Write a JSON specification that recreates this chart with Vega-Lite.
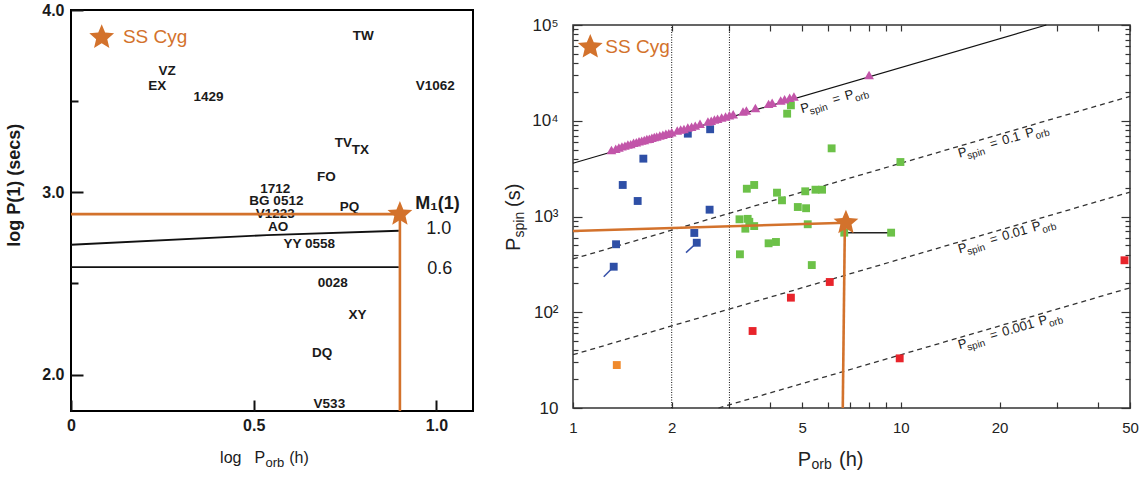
{
  "$schema": "https://vega.github.io/schema/vega-lite/v6.json",
  "padding": {"left": 5, "top": 1, "right": 5, "bottom": 0},
  "spacing": 29,
  "config": {"font": "Liberation Sans", "view": {"stroke": null}, "axis": {"grid": false}},
  "datasets": {
    "lp_lines": [
      {"id": "a", "x": 0, "y": 2.712}, {"id": "a", "x": 0.536, "y": 2.765}, {"id": "a", "x": 0.897, "y": 2.789},
      {"id": "b", "x": 0, "y": 2.589}, {"id": "b", "x": 0.897, "y": 2.589}
    ],
    "lp_orange": [
      {"id": "h", "x": 0, "y": 2.88}, {"id": "h", "x": 0.9, "y": 2.88},
      {"id": "v", "x": 0.9, "y": 2.88}, {"id": "v", "x": 0.9, "y": 1.8}
    ],
    "lp_stars": [{"x": 0.9, "y": 2.88}, {"x": 0.084, "y": 3.85}],
    "lp_text": [
      {"t": "TW", "x": 0.80, "y": 3.856, "kind": "n"},
      {"t": "VZ", "x": 0.263, "y": 3.664, "kind": "n"},
      {"t": "EX", "x": 0.236, "y": 3.582, "kind": "n"},
      {"t": "1429", "x": 0.376, "y": 3.52, "kind": "n"},
      {"t": "V1062", "x": 0.997, "y": 3.582, "kind": "n"},
      {"t": "TV", "x": 0.745, "y": 3.27, "kind": "n"},
      {"t": "TX", "x": 0.792, "y": 3.23, "kind": "n"},
      {"t": "FO", "x": 0.699, "y": 3.083, "kind": "n"},
      {"t": "1712", "x": 0.559, "y": 3.017, "kind": "n"},
      {"t": "BG 0512", "x": 0.562, "y": 2.95, "kind": "n"},
      {"t": "V1223", "x": 0.559, "y": 2.88, "kind": "n"},
      {"t": "PQ", "x": 0.762, "y": 2.918, "kind": "n"},
      {"t": "AO", "x": 0.567, "y": 2.81, "kind": "n"},
      {"t": "YY 0558", "x": 0.652, "y": 2.716, "kind": "n"},
      {"t": "0028", "x": 0.716, "y": 2.50, "kind": "n"},
      {"t": "XY", "x": 0.784, "y": 2.327, "kind": "n"},
      {"t": "DQ", "x": 0.687, "y": 2.12, "kind": "n"},
      {"t": "V533", "x": 0.707, "y": 1.84, "kind": "n"},
      {"t": "1.0", "x": 1.006, "y": 2.798, "kind": "lv"},
      {"t": "0.6", "x": 1.009, "y": 2.58, "kind": "lv"},
      {"t": "M₁(1)", "x": 0.942, "y": 2.935, "kind": "m"},
      {"t": "SS Cyg", "x": 0.142, "y": 3.85, "kind": "lg"},
      {"t": "log P(1) (secs)", "x": -0.153, "y": 3.039, "kind": "yt"},
      {"t": "log", "x": 0.408, "y": 1.516, "kind": "xt"},
      {"t": "P", "x": 0.502, "y": 1.516, "kind": "xt"},
      {"t": "(h)", "x": 0.597, "y": 1.516, "kind": "xt"},
      {"t": "orb", "x": 0.532, "y": 1.516, "kind": "xs"}
    ],
    "rp_lines": [
      {"id": "v2", "porb": 2, "pspin": 10}, {"id": "v2", "porb": 2, "pspin": 100000},
      {"id": "v3", "porb": 3, "pspin": 10}, {"id": "v3", "porb": 3, "pspin": 100000},
      {"id": "eq", "porb": 1, "pspin": 3600}, {"id": "eq", "porb": 27.78, "pspin": 100000},
      {"id": "d1", "porb": 1, "pspin": 360}, {"id": "d1", "porb": 50, "pspin": 18000},
      {"id": "d2", "porb": 1, "pspin": 36}, {"id": "d2", "porb": 50, "pspin": 1800},
      {"id": "d3", "porb": 2.778, "pspin": 10}, {"id": "d3", "porb": 50, "pspin": 180},
      {"id": "t1", "porb": 1.331, "pspin": 299}, {"id": "t1", "porb": 1.241, "pspin": 235},
      {"id": "t2", "porb": 2.385, "pspin": 532}, {"id": "t2", "porb": 2.212, "pspin": 419},
      {"id": "conn", "porb": 6.72, "pspin": 678}, {"id": "conn", "porb": 9.34, "pspin": 678},
      {"id": "o1", "porb": 1, "pspin": 706}, {"id": "o1", "porb": 6.8, "pspin": 861},
      {"id": "o2", "porb": 6.75, "pspin": 861}, {"id": "o2", "porb": 6.65, "pspin": 10}
    ],
    "rp_pts": [
      {"grp": "blue", "porb": 2.24, "pspin": 7330}, {"grp": "blue", "porb": 2.62, "pspin": 8150},
      {"grp": "blue", "porb": 1.639, "pspin": 4020}, {"grp": "blue", "porb": 1.418, "pspin": 2134},
      {"grp": "blue", "porb": 1.575, "pspin": 1452}, {"grp": "blue", "porb": 2.61, "pspin": 1178},
      {"grp": "blue", "porb": 2.344, "pspin": 673}, {"grp": "blue", "porb": 2.385, "pspin": 532},
      {"grp": "blue", "porb": 1.353, "pspin": 513}, {"grp": "blue", "porb": 1.331, "pspin": 299},
      {"grp": "green", "porb": 4.62, "pspin": 14490}, {"grp": "green", "porb": 4.5, "pspin": 11860},
      {"grp": "green", "porb": 6.15, "pspin": 5150}, {"grp": "green", "porb": 9.97, "pspin": 3707},
      {"grp": "green", "porb": 3.39, "pspin": 1950}, {"grp": "green", "porb": 3.57, "pspin": 2134},
      {"grp": "green", "porb": 4.19, "pspin": 1774}, {"grp": "green", "porb": 4.34, "pspin": 1476},
      {"grp": "green", "porb": 5.11, "pspin": 1833}, {"grp": "green", "porb": 5.49, "pspin": 1905},
      {"grp": "green", "porb": 5.75, "pspin": 1905}, {"grp": "green", "porb": 4.85, "pspin": 1256},
      {"grp": "green", "porb": 5.14, "pspin": 1220}, {"grp": "green", "porb": 3.22, "pspin": 935},
      {"grp": "green", "porb": 3.41, "pspin": 945}, {"grp": "green", "porb": 3.355, "pspin": 746},
      {"grp": "green", "porb": 3.57, "pspin": 794}, {"grp": "green", "porb": 5.2, "pspin": 830},
      {"grp": "green", "porb": 3.95, "pspin": 525}, {"grp": "green", "porb": 4.16, "pspin": 542},
      {"grp": "green", "porb": 3.23, "pspin": 403}, {"grp": "green", "porb": 5.35, "pspin": 311},
      {"grp": "green", "porb": 6.72, "pspin": 678}, {"grp": "green", "porb": 9.34, "pspin": 678},
      {"grp": "green", "porb": 3.45, "pspin": 880},
      {"grp": "red", "porb": 3.53, "pspin": 63.7}, {"grp": "red", "porb": 4.62, "pspin": 142},
      {"grp": "red", "porb": 6.07, "pspin": 207}, {"grp": "red", "porb": 9.92, "pspin": 33},
      {"grp": "red", "porb": 48.1, "pspin": 349},
      {"grp": "orange", "porb": 1.36, "pspin": 28.1},
      {"grp": "tri", "porb": 1.31, "pspin": 4950}, {"grp": "tri", "porb": 1.35, "pspin": 5100},
      {"grp": "tri", "porb": 1.38, "pspin": 5250}, {"grp": "tri", "porb": 1.41, "pspin": 5400},
      {"grp": "tri", "porb": 1.44, "pspin": 5500}, {"grp": "tri", "porb": 1.47, "pspin": 5650},
      {"grp": "tri", "porb": 1.50, "pspin": 5700}, {"grp": "tri", "porb": 1.53, "pspin": 5900},
      {"grp": "tri", "porb": 1.56, "pspin": 5950}, {"grp": "tri", "porb": 1.59, "pspin": 6100},
      {"grp": "tri", "porb": 1.62, "pspin": 6200}, {"grp": "tri", "porb": 1.65, "pspin": 6300},
      {"grp": "tri", "porb": 1.68, "pspin": 6450}, {"grp": "tri", "porb": 1.71, "pspin": 6500},
      {"grp": "tri", "porb": 1.74, "pspin": 6650}, {"grp": "tri", "porb": 1.77, "pspin": 6750},
      {"grp": "tri", "porb": 1.80, "pspin": 6850}, {"grp": "tri", "porb": 1.84, "pspin": 7000},
      {"grp": "tri", "porb": 1.88, "pspin": 7150}, {"grp": "tri", "porb": 1.92, "pspin": 7300},
      {"grp": "tri", "porb": 1.96, "pspin": 7400}, {"grp": "tri", "porb": 2.00, "pspin": 7600},
      {"grp": "tri", "porb": 2.08, "pspin": 7900}, {"grp": "tri", "porb": 2.13, "pspin": 8100},
      {"grp": "tri", "porb": 2.18, "pspin": 8200}, {"grp": "tri", "porb": 2.24, "pspin": 8500},
      {"grp": "tri", "porb": 2.30, "pspin": 8650}, {"grp": "tri", "porb": 2.36, "pspin": 8900},
      {"grp": "tri", "porb": 2.44, "pspin": 9300}, {"grp": "tri", "porb": 2.58, "pspin": 9800},
      {"grp": "tri", "porb": 2.64, "pspin": 10000}, {"grp": "tri", "porb": 2.70, "pspin": 10300},
      {"grp": "tri", "porb": 2.76, "pspin": 10500}, {"grp": "tri", "porb": 2.84, "pspin": 10800},
      {"grp": "tri", "porb": 2.92, "pspin": 11100}, {"grp": "tri", "porb": 3.00, "pspin": 11400},
      {"grp": "tri", "porb": 3.08, "pspin": 11700}, {"grp": "tri", "porb": 3.30, "pspin": 12500},
      {"grp": "tri", "porb": 3.38, "pspin": 12800}, {"grp": "tri", "porb": 3.60, "pspin": 13600},
      {"grp": "tri", "porb": 3.95, "pspin": 15000}, {"grp": "tri", "porb": 4.05, "pspin": 15400},
      {"grp": "tri", "porb": 4.30, "pspin": 16300}, {"grp": "tri", "porb": 4.42, "pspin": 16800},
      {"grp": "tri", "porb": 4.58, "pspin": 17400}, {"grp": "tri", "porb": 4.72, "pspin": 17900},
      {"grp": "tri", "porb": 8.0, "pspin": 30000}
    ],
    "rp_stars": [{"porb": 6.8, "pspin": 861}, {"porb": 1.129, "pspin": 58900}],
    "rp_text": [
      {"t": "P", "porb": 4.996, "pspin": 11970, "kind": "lm"},
      {"t": "spin", "porb": 5.273, "pspin": 12634, "kind": "ls"},
      {"t": "=", "porb": 6.243, "pspin": 14958, "kind": "lm"},
      {"t": "P", "porb": 6.815, "pspin": 16328, "kind": "lm"},
      {"t": "orb", "porb": 7.242, "pspin": 17350, "kind": "ls"},
      {"t": "P", "porb": 15.09, "pspin": 4113, "kind": "lm"},
      {"t": "spin", "porb": 15.93, "pspin": 4341, "kind": "ls"},
      {"t": "=", "porb": 18.86, "pspin": 5140, "kind": "lm"},
      {"t": "0.1", "porb": 20.58, "pspin": 5611, "kind": "lm"},
      {"t": "P", "porb": 24.20, "pspin": 6596, "kind": "lm"},
      {"t": "orb", "porb": 25.72, "pspin": 7010, "kind": "ls"},
      {"t": "P", "porb": 15.09, "pspin": 411.3, "kind": "lm"},
      {"t": "spin", "porb": 15.93, "pspin": 434.1, "kind": "ls"},
      {"t": "=", "porb": 18.86, "pspin": 514.0, "kind": "lm"},
      {"t": "0.01", "porb": 20.58, "pspin": 561.1, "kind": "lm"},
      {"t": "P", "porb": 25.37, "pspin": 691.6, "kind": "lm"},
      {"t": "orb", "porb": 26.96, "pspin": 734.8, "kind": "ls"},
      {"t": "P", "porb": 15.09, "pspin": 41.13, "kind": "lm"},
      {"t": "spin", "porb": 15.93, "pspin": 43.41, "kind": "ls"},
      {"t": "=", "porb": 18.86, "pspin": 51.40, "kind": "lm"},
      {"t": "0.001", "porb": 20.58, "pspin": 56.11, "kind": "lm"},
      {"t": "P", "porb": 26.59, "pspin": 72.49, "kind": "lm"},
      {"t": "orb", "porb": 28.26, "pspin": 77.03, "kind": "ls"},
      {"t": "P", "porb": 4.85, "pspin": 2.48, "kind": "xm"},
      {"t": "(h)", "porb": 6.48, "pspin": 2.48, "kind": "xm"},
      {"t": "orb", "porb": 5.34, "pspin": 2.48, "kind": "xs"},
      {"t": "P", "porb": 0.689, "pspin": 436.5, "kind": "ym"},
      {"t": "(s)", "porb": 0.689, "pspin": 1256, "kind": "ym"},
      {"t": "spin", "porb": 0.689, "pspin": 604, "kind": "ys"},
      {"t": "SS Cyg", "porb": 1.255, "pspin": 58900, "kind": "lg"}
    ]
  },
  "hconcat": [
    {
      "width": 402,
      "height": 401,
      "view": {"stroke": "black", "strokeWidth": 2},
      "resolve": {"axis": {"x": "independent", "y": "independent"}},
      "encoding": {
        "x": {"field": "x", "type": "quantitative", "scale": {"domain": [0, 1.1], "nice": false, "zero": false}, "axis": null},
        "y": {"field": "y", "type": "quantitative", "scale": {"domain": [1.8, 4.0], "nice": false, "zero": false}, "axis": null}
      },
      "layer": [
        {
          "data": {"name": "lp_lines"},
          "mark": {"type": "line", "color": "#111", "strokeWidth": 1.8},
          "encoding": {
            "x": {"field": "x", "type": "quantitative", "scale": {"domain": [0, 1.1], "nice": false, "zero": false},
              "axis": {"values": [0, 0.5, 1], "labelExpr": "datum.value == 0 ? '0' : format(datum.value, '.1f')", "tickSize": -11, "tickWidth": 2, "tickColor": "#111", "domain": false, "labelPadding": 17, "labelFontSize": 16, "labelFontWeight": "bold", "labelColor": "#1a1a1a", "labelFlush": false, "labelOverlap": false, "title": null}},
            "y": {"field": "y", "type": "quantitative", "scale": {"domain": [1.8, 4.0], "nice": false, "zero": false},
              "axis": {"values": [2, 2.5, 3, 3.5, 4], "labelExpr": "datum.value % 1 == 0 ? format(datum.value, '.1f') : ''", "tickSize": {"condition": {"test": "datum.value % 1 == 0", "value": -12}, "value": -7}, "tickWidth": 2, "tickColor": "#111", "domain": false, "labelPadding": 19, "labelFontSize": 16, "labelFontWeight": "bold", "labelColor": "#1a1a1a", "labelFlush": false, "labelOverlap": false, "title": null}},
            "detail": {"field": "id"}
          }
        },
        {
          "data": {"name": "lp_text"},
          "transform": [{"filter": "datum.kind == 'n'"}],
          "mark": {"type": "text", "fontSize": 13.5, "fontWeight": "bold", "color": "#1a1a1a", "align": "center", "baseline": "middle"},
          "encoding": {"text": {"field": "t"}}
        },
        {
          "data": {"name": "lp_text"},
          "transform": [{"filter": "datum.kind == 'lv'"}],
          "mark": {"type": "text", "fontSize": 18, "color": "#1a1a1a", "align": "center", "baseline": "middle"},
          "encoding": {"text": {"field": "t"}}
        },
        {
          "data": {"name": "lp_text"},
          "transform": [{"filter": "datum.kind == 'm'"}],
          "mark": {"type": "text", "fontSize": 18, "fontWeight": "bold", "color": "#1a1a1a", "align": "left", "baseline": "middle"},
          "encoding": {"text": {"field": "t"}}
        },
        {
          "data": {"name": "lp_orange"},
          "mark": {"type": "line", "color": "#D3722C", "strokeWidth": 2.6},
          "encoding": {"detail": {"field": "id"}}
        },
        {
          "data": {"name": "lp_stars"},
          "mark": {"type": "point", "shape": "M0,-1L0.265,-0.364L0.951,-0.309L0.428,0.139L0.588,0.809L0,0.45L-0.588,0.809L-0.428,0.139L-0.951,-0.309L-0.265,-0.364Z", "size": 680, "filled": true, "color": "#D3722C", "opacity": 1}
        },
        {
          "data": {"name": "lp_text"},
          "transform": [{"filter": "datum.kind == 'lg'"}],
          "mark": {"type": "text", "fontSize": 19, "color": "#D3722C", "align": "left", "baseline": "middle"},
          "encoding": {"text": {"field": "t"}}
        },
        {
          "data": {"name": "lp_text"},
          "transform": [{"filter": "datum.kind == 'yt'"}],
          "mark": {"type": "text", "fontSize": 18, "fontWeight": "bold", "color": "#1a1a1a", "align": "center", "baseline": "middle", "angle": 270},
          "encoding": {"text": {"field": "t"}}
        },
        {
          "data": {"name": "lp_text"},
          "transform": [{"filter": "datum.kind == 'xt'"}],
          "mark": {"type": "text", "fontSize": 16, "color": "#1a1a1a", "align": "left", "baseline": "alphabetic"},
          "encoding": {"text": {"field": "t"}}
        },
        {
          "data": {"name": "lp_text"},
          "transform": [{"filter": "datum.kind == 'xs'"}],
          "mark": {"type": "text", "fontSize": 13, "color": "#1a1a1a", "align": "left", "baseline": "alphabetic", "dy": 4},
          "encoding": {"text": {"field": "t"}}
        }
      ]
    },
    {
      "spacing": -1,
      "vconcat": [
        {
          "width": 557,
          "height": 1,
          "data": {"values": [{"a": 1}]},
          "mark": {"type": "text", "text": ""}
        },
        {
          "width": 557,
          "height": 383,
          "view": {"stroke": "#333", "strokeWidth": 1.5},
          "resolve": {"axis": {"x": "independent", "y": "independent"}},
          "encoding": {
            "x": {"field": "porb", "type": "quantitative", "scale": {"type": "log", "domain": [1, 50], "nice": false}, "axis": null},
            "y": {"field": "pspin", "type": "quantitative", "scale": {"type": "log", "domain": [10, 100000], "nice": false}, "axis": null}
          },
          "layer": [
            {
              "data": {"name": "rp_lines"},
              "transform": [{"filter": "datum.id == 'v2' || datum.id == 'v3'"}],
              "mark": {"type": "line", "color": "#111", "strokeWidth": 1, "strokeDash": [1, 1.5]},
              "encoding": {
                "x": {"field": "porb", "type": "quantitative", "scale": {"type": "log", "domain": [1, 50], "nice": false},
                  "axis": {"orient": "bottom", "values": [1, 2, 3, 4, 5, 6, 7, 8, 9, 10, 20, 30, 40, 50], "labelExpr": "indexof([1, 2, 5, 10, 20, 50], datum.value) >= 0 ? '' + datum.value : ''", "tickSize": -6, "tickColor": "#333", "tickWidth": 1.2, "domain": false, "labelPadding": 18, "labelFontSize": 15, "labelColor": "#222", "labelFlush": false, "labelOverlap": false, "title": null}},
                "y": {"field": "pspin", "type": "quantitative", "scale": {"type": "log", "domain": [10, 100000], "nice": false},
                  "axis": {"orient": "left", "values": [10, 20, 30, 40, 50, 60, 70, 80, 90, 100, 200, 300, 400, 500, 600, 700, 800, 900, 1000, 2000, 3000, 4000, 5000, 6000, 7000, 8000, 9000, 10000, 20000, 30000, 40000, 50000, 60000, 70000, 80000, 90000, 100000], "labelExpr": "datum.value == 10 ? '10' : datum.value == 100 ? '10²' : datum.value == 1000 ? '10³' : datum.value == 10000 ? '10⁴' : datum.value == 100000 ? '10⁵' : ''", "tickSize": {"condition": {"test": "indexof([10, 100, 1000, 10000, 100000], datum.value) >= 0", "value": -9}, "value": -5}, "tickColor": "#333", "tickWidth": 1.2, "domain": false, "labelPadding": 24, "labelFontSize": 17, "labelColor": "#222", "labelFlush": false, "labelOverlap": false, "title": null}},
                "detail": {"field": "id"}
              }
            },
            {
              "data": {"name": "rp_lines"},
              "transform": [{"filter": "datum.id == 'eq'"}],
              "mark": {"type": "line", "color": "#111", "strokeWidth": 1.2},
              "encoding": {
                "x": {"field": "porb", "type": "quantitative", "scale": {"type": "log", "domain": [1, 50], "nice": false},
                  "axis": {"orient": "top", "values": [1, 2, 3, 4, 5, 6, 7, 8, 9, 10, 20, 30, 40, 50], "labels": false, "tickSize": -6, "tickColor": "#333", "tickWidth": 1.2, "domain": false, "title": null}},
                "y": {"field": "pspin", "type": "quantitative", "scale": {"type": "log", "domain": [10, 100000], "nice": false},
                  "axis": {"orient": "right", "values": [10, 20, 30, 40, 50, 60, 70, 80, 90, 100, 200, 300, 400, 500, 600, 700, 800, 900, 1000, 2000, 3000, 4000, 5000, 6000, 7000, 8000, 9000, 10000, 20000, 30000, 40000, 50000, 60000, 70000, 80000, 90000, 100000], "labels": false, "tickSize": {"condition": {"test": "indexof([10, 100, 1000, 10000, 100000], datum.value) >= 0", "value": -9}, "value": -5}, "tickColor": "#333", "tickWidth": 1.2, "domain": false, "title": null}},
                "detail": {"field": "id"}
              }
            },
            {
              "data": {"name": "rp_lines"},
              "transform": [{"filter": "datum.id == 'd1' || datum.id == 'd2' || datum.id == 'd3'"}],
              "mark": {"type": "line", "color": "#333", "strokeWidth": 1.3, "strokeDash": [5, 4]},
              "encoding": {"detail": {"field": "id"}}
            },
            {
              "data": {"name": "rp_lines"},
              "transform": [{"filter": "datum.id == 't1' || datum.id == 't2'"}],
              "mark": {"type": "line", "color": "#3550A8", "strokeWidth": 1.5},
              "encoding": {"detail": {"field": "id"}}
            },
            {
              "data": {"name": "rp_lines"},
              "transform": [{"filter": "datum.id == 'conn'"}],
              "mark": {"type": "line", "color": "#222", "strokeWidth": 1.5},
              "encoding": {"detail": {"field": "id"}}
            },
            {
              "data": {"name": "rp_pts"},
              "transform": [{"filter": "datum.grp != 'tri'"}],
              "mark": {"type": "point", "shape": "square", "filled": true, "size": 62, "opacity": 1},
              "encoding": {
                "color": {"field": "grp", "type": "nominal", "scale": {"domain": ["blue", "green", "red", "orange"], "range": ["#2E4FA6", "#6CC148", "#E8242B", "#F08A2C"]}, "legend": null}
              }
            },
            {
              "data": {"name": "rp_pts"},
              "transform": [{"filter": "datum.grp == 'tri'"}],
              "mark": {"type": "point", "shape": "triangle-up", "filled": true, "size": 95, "color": "#C255A9", "opacity": 1}
            },
            {
              "data": {"name": "rp_lines"},
              "transform": [{"filter": "datum.id == 'o1' || datum.id == 'o2'"}],
              "mark": {"type": "line", "color": "#D3722C", "strokeWidth": 2.6},
              "encoding": {"detail": {"field": "id"}}
            },
            {
              "data": {"name": "rp_stars"},
              "mark": {"type": "point", "shape": "M0,-1L0.265,-0.364L0.951,-0.309L0.428,0.139L0.588,0.809L0,0.45L-0.588,0.809L-0.428,0.139L-0.951,-0.309L-0.265,-0.364Z", "size": 680, "filled": true, "color": "#D3722C", "opacity": 1}
            },
            {
              "data": {"name": "rp_text"},
              "transform": [{"filter": "datum.kind == 'lm'"}],
              "mark": {"type": "text", "fontSize": 13, "color": "#222", "align": "left", "baseline": "alphabetic", "angle": 343.7},
              "encoding": {"text": {"field": "t"}}
            },
            {
              "data": {"name": "rp_text"},
              "transform": [{"filter": "datum.kind == 'ls'"}],
              "mark": {"type": "text", "fontSize": 10, "color": "#222", "align": "left", "baseline": "alphabetic", "angle": 343.7, "dy": 4},
              "encoding": {"text": {"field": "t"}}
            },
            {
              "data": {"name": "rp_text"},
              "transform": [{"filter": "datum.kind == 'xm'"}],
              "mark": {"type": "text", "fontSize": 20, "color": "#222", "align": "left", "baseline": "alphabetic"},
              "encoding": {"text": {"field": "t"}}
            },
            {
              "data": {"name": "rp_text"},
              "transform": [{"filter": "datum.kind == 'xs'"}],
              "mark": {"type": "text", "fontSize": 14, "color": "#222", "align": "left", "baseline": "alphabetic", "dy": 3},
              "encoding": {"text": {"field": "t"}}
            },
            {
              "data": {"name": "rp_text"},
              "transform": [{"filter": "datum.kind == 'ym'"}],
              "mark": {"type": "text", "fontSize": 20, "color": "#222", "align": "left", "baseline": "alphabetic", "angle": 270},
              "encoding": {"text": {"field": "t"}}
            },
            {
              "data": {"name": "rp_text"},
              "transform": [{"filter": "datum.kind == 'ys'"}],
              "mark": {"type": "text", "fontSize": 14, "color": "#222", "align": "left", "baseline": "alphabetic", "angle": 270, "dy": 4},
              "encoding": {"text": {"field": "t"}}
            },
            {
              "data": {"name": "rp_text"},
              "transform": [{"filter": "datum.kind == 'lg'"}],
              "mark": {"type": "text", "fontSize": 19, "color": "#D3722C", "align": "left", "baseline": "middle"},
              "encoding": {"text": {"field": "t"}}
            }
          ]
        }
      ]
    }
  ]
}
